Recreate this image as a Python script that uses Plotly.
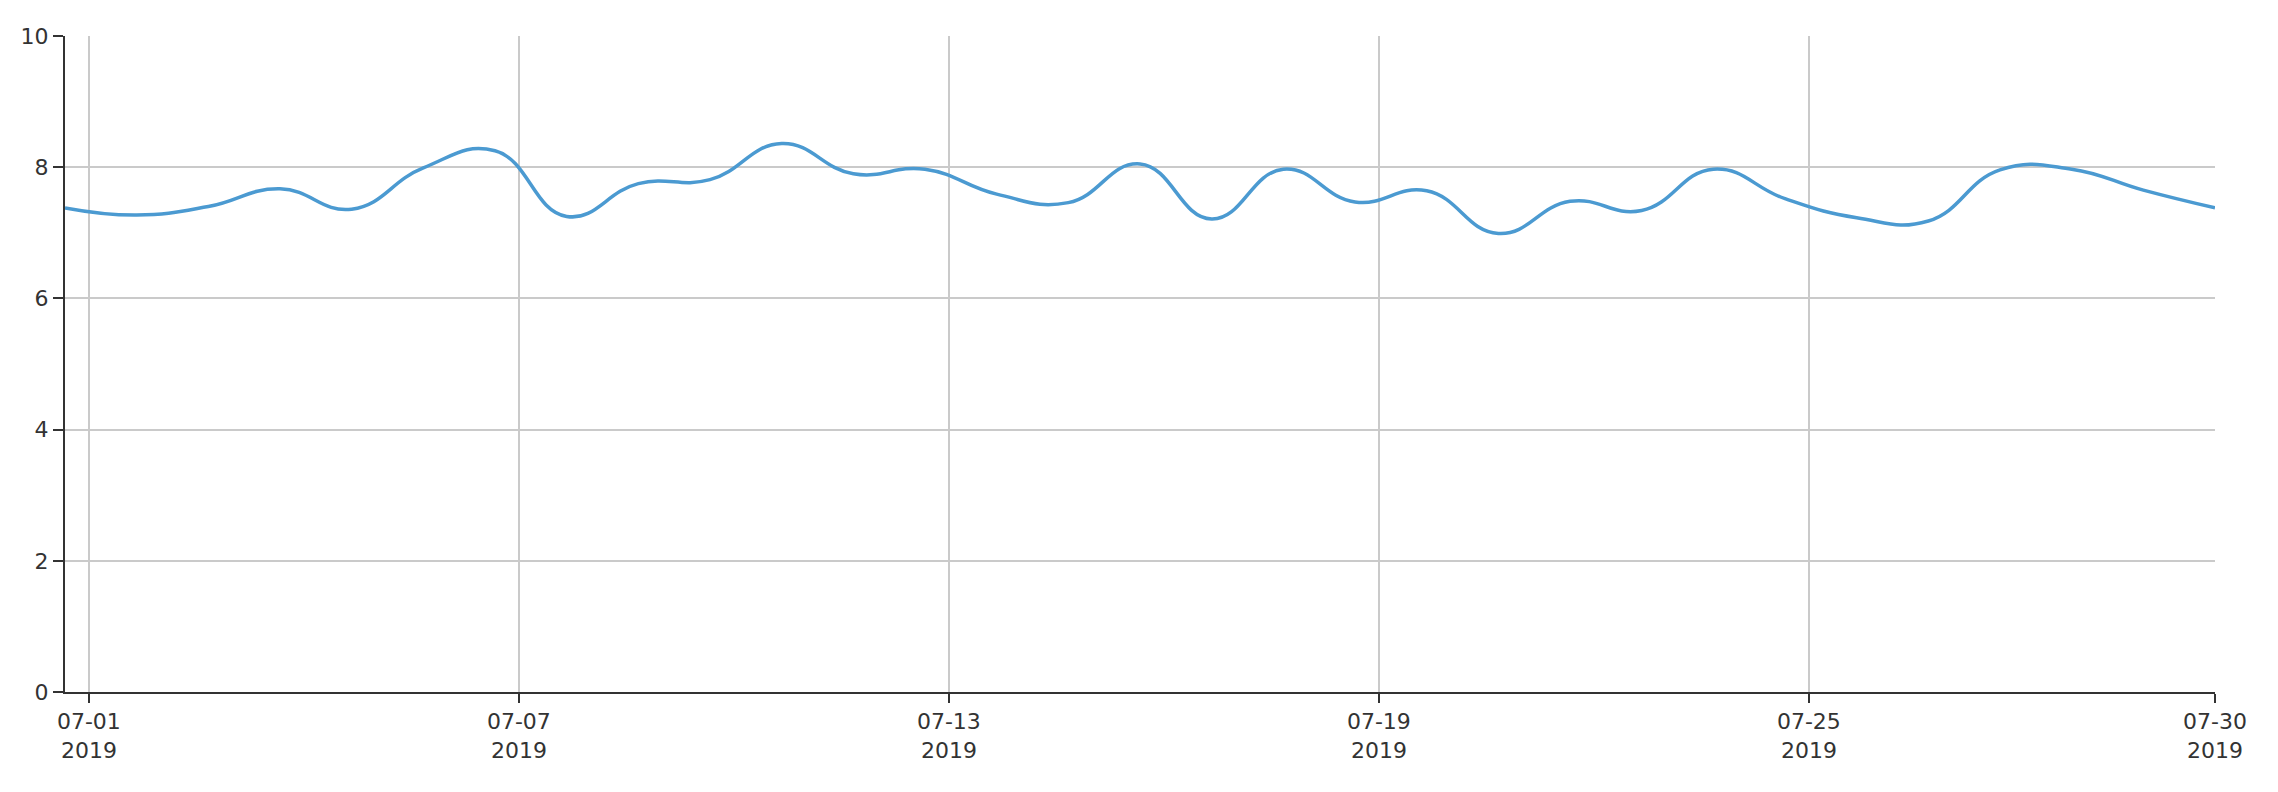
import plotly.graph_objects as go
import pandas as pd

# Data: one reading per day (timestamps as displayed on the axis)
start = pd.Timestamp("2019-06-30 16:00")
values = [7.38, 7.27, 7.40, 7.67, 7.36, 7.99, 8.25, 7.25, 7.75, 7.81,
          8.36, 7.90, 7.97, 7.59, 7.46, 8.05, 7.21, 7.97, 7.47, 7.64,
          6.99, 7.48, 7.34, 7.97, 7.52, 7.23, 7.18, 7.96, 7.97, 7.65, 7.38]
dates = [start + pd.Timedelta(days=i) for i in range(len(values))]

tick_dates = ["2019-07-01", "2019-07-07", "2019-07-13", "2019-07-19", "2019-07-25", "2019-07-30 16:00"]
tick_labels = ["07-01<br>2019", "07-07<br>2019", "07-13<br>2019", "07-19<br>2019", "07-25<br>2019", "07-30<br>2019"]
y_ticks = [0, 2, 4, 6, 8, 10]

fig = go.Figure()
fig.add_trace(go.Scatter(
    x=dates, y=values, mode="lines",
    line=dict(color="#4b9ad1", width=3.5, shape="spline", smoothing=1.3),
    hoverinfo="x+y", showlegend=False,
))

font = dict(family="DejaVu Sans, Liberation Sans, sans-serif", size=22, color="#333333")

# page body has an 8px margin, so the figure is slightly smaller and margins shifted
fig.update_layout(
    width=2262, height=776,
    margin=dict(l=57, r=55, t=28, b=92),
    paper_bgcolor="white", plot_bgcolor="white",
    font=font,
    xaxis=dict(
        type="date",
        range=[dates[0], dates[-1]],
        tickmode="array", tickvals=tick_dates, ticktext=tick_labels,
        showgrid=True, gridcolor="#cacaca", gridwidth=2,
        showline=True, linecolor="#333333", linewidth=2,
        ticks="outside", ticklen=9, tickwidth=2, tickcolor="#333333",
        zeroline=False, tickfont=font,
    ),
    yaxis=dict(
        range=[0, 10],
        tickmode="array", tickvals=y_ticks,
        showgrid=True, gridcolor="#cacaca", gridwidth=2,
        showline=True, linecolor="#333333", linewidth=2,
        ticks="outside", ticklen=10, tickwidth=2, tickcolor="#333333",
        zeroline=False, tickfont=font,
    ),
)

fig.write_html("out.html")
